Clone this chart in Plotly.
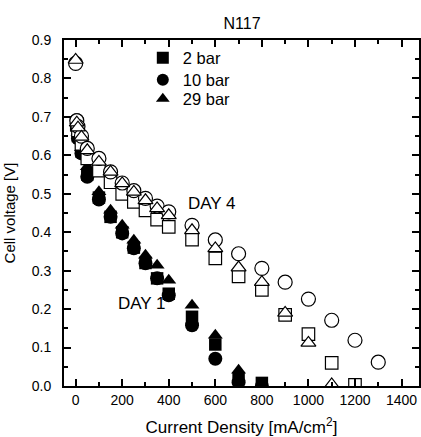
import plotly.graph_objects as go

# ---- Data ----
# Day 1 (filled markers)
day1_current = [5, 10, 25, 50, 100, 150, 200, 250, 300, 350, 400, 500, 600, 700, 800]
day1_2bar = [0.68, 0.65, 0.61, 0.55, 0.49, 0.44, 0.40, 0.36, 0.32, 0.28, 0.24, 0.18, 0.108, 0.02, 0.008]
day1_10bar = [0.692, 0.644, 0.605, 0.544, 0.485, 0.44, 0.397, 0.358, 0.319, 0.28, 0.236, 0.158, 0.071, 0.01, 0.0]
day1_29bar = [0.69, 0.66, 0.62, 0.57, 0.505, 0.457, 0.418, 0.379, 0.34, 0.314, 0.275, 0.21, 0.132, 0.041, 0.0]

# Day 4 (open markers)
day4_current_2bar = [5, 10, 25, 50, 100, 150, 200, 250, 300, 350, 400, 500, 600, 700, 800, 900, 1000, 1100, 1200]
day4_2bar = [0.68, 0.665, 0.63, 0.592, 0.56, 0.53, 0.50, 0.479, 0.457, 0.433, 0.414, 0.381, 0.332, 0.285, 0.25, 0.185, 0.135, 0.06, 0.003]
day4_current_10bar = [0, 5, 10, 25, 50, 100, 150, 200, 250, 300, 350, 400, 500, 600, 700, 800, 900, 1000, 1100, 1200, 1300]
day4_10bar = [0.839, 0.69, 0.675, 0.65, 0.618, 0.592, 0.557, 0.528, 0.508, 0.488, 0.468, 0.453, 0.418, 0.38, 0.344, 0.306, 0.27, 0.226, 0.171, 0.119, 0.062]
day4_current_29bar = [0, 5, 10, 25, 50, 100, 150, 200, 250, 300, 350, 400, 500, 600, 700, 800, 900, 1000, 1100]
day4_29bar = [0.848, 0.685, 0.672, 0.648, 0.613, 0.583, 0.557, 0.527, 0.505, 0.483, 0.462, 0.444, 0.405, 0.358, 0.308, 0.27, 0.19, 0.112, 0.004]

legend_names = ["2 bar", "10 bar", "29 bar"]
title_text = "N117"
x_title = "Current Density [mA/cm<sup>2</sup>]"
y_title = "Cell voltage [V]"
x_ticks = [0, 200, 400, 600, 800, 1000, 1200, 1400]
y_ticks = [0.0, 0.1, 0.2, 0.3, 0.4, 0.5, 0.6, 0.7, 0.8, 0.9]

FONT = "Liberation Sans, Arial, sans-serif"

fig = go.Figure()

# filled (Day 1)
fig.add_trace(go.Scatter(x=day1_current, y=day1_2bar, mode="markers", name=legend_names[0], legend="legend",
                         marker=dict(symbol="square", size=12.5, color="black", line=dict(width=0))))
fig.add_trace(go.Scatter(x=day1_current, y=day1_10bar, mode="markers", name=legend_names[1], legend="legend2",
                         marker=dict(symbol="circle", size=14, color="black", line=dict(width=0))))
fig.add_trace(go.Scatter(x=day1_current, y=day1_29bar, mode="markers", name=legend_names[2], legend="legend3",
                         marker=dict(symbol="triangle-up", size=13, color="black", line=dict(width=0))))

# open (Day 4)
fig.add_trace(go.Scatter(x=day4_current_2bar, y=day4_2bar, mode="markers", showlegend=False,
                         marker=dict(symbol="square", size=12.5, color="white", line=dict(width=1.2, color="black"))))
fig.add_trace(go.Scatter(x=day4_current_10bar, y=day4_10bar, mode="markers", showlegend=False,
                         marker=dict(symbol="circle", size=14, color="white", line=dict(width=1.2, color="black"))))
fig.add_trace(go.Scatter(x=day4_current_29bar, y=day4_29bar, mode="markers", showlegend=False,
                         marker=dict(symbol="triangle-up", size=13, color="white", line=dict(width=1.2, color="black"))))

fig.add_annotation(x=585, y=0.475, text="DAY 4", showarrow=False, xref="x", yref="y",
                   font=dict(family=FONT, size=17, color="black"))
fig.add_annotation(x=285, y=0.214, text="DAY 1", showarrow=False, xref="x", yref="y",
                   font=dict(family=FONT, size=17, color="black"))

legend_common = dict(x=0.222, xanchor="left", yanchor="top", bgcolor="rgba(0,0,0,0)",
                     font=dict(family=FONT, size=16.5, color="black"), itemsizing="constant")

fig.update_layout(
    width=421, height=437,
    margin=dict(l=64, r=0, t=40, b=51),
    paper_bgcolor="white", plot_bgcolor="white",
    font=dict(family=FONT, size=14, color="black"),
    title=dict(text=title_text, x=0.575, xanchor="center", y=1 - 23 / 437, yanchor="middle",
               font=dict(family=FONT, size=16, color="black")),
    showlegend=True,
    legend=dict(y=0.9986, **legend_common),
    legend2=dict(y=0.9349, **legend_common),
    legend3=dict(y=0.8799, **legend_common),
)

fig.update_xaxes(
    range=[-50, 1475], tickvals=x_ticks, ticktext=[str(v) for v in x_ticks],
    ticks="inside", ticklen=7, tickwidth=2, tickcolor="black",
    minor=dict(dtick=100, tick0=0, ticks="inside", ticklen=4, tickwidth=2, tickcolor="black"),
    showline=True, linewidth=2, linecolor="black", mirror="allticks",
    showgrid=False, zeroline=False,
    tickfont=dict(family=FONT, size=14, color="black"), ticklabelstandoff=0,
    title=dict(text=x_title, font=dict(family=FONT, size=17, color="black"), standoff=14),
)
fig.update_yaxes(
    range=[0, 0.9], tickvals=y_ticks, ticktext=["%.1f" % v for v in y_ticks],
    ticks="inside", ticklen=7, tickwidth=2, tickcolor="black",
    minor=dict(dtick=0.05, tick0=0, ticks="inside", ticklen=4, tickwidth=2, tickcolor="black"),
    showline=True, linewidth=2, linecolor="black", mirror="allticks",
    showgrid=False, zeroline=False,
    tickfont=dict(family=FONT, size=14, color="black"), ticklabelstandoff=8,
    title=dict(text=y_title, font=dict(family=FONT, size=15, color="black"), standoff=12),
)

fig.write_html("out.html")
